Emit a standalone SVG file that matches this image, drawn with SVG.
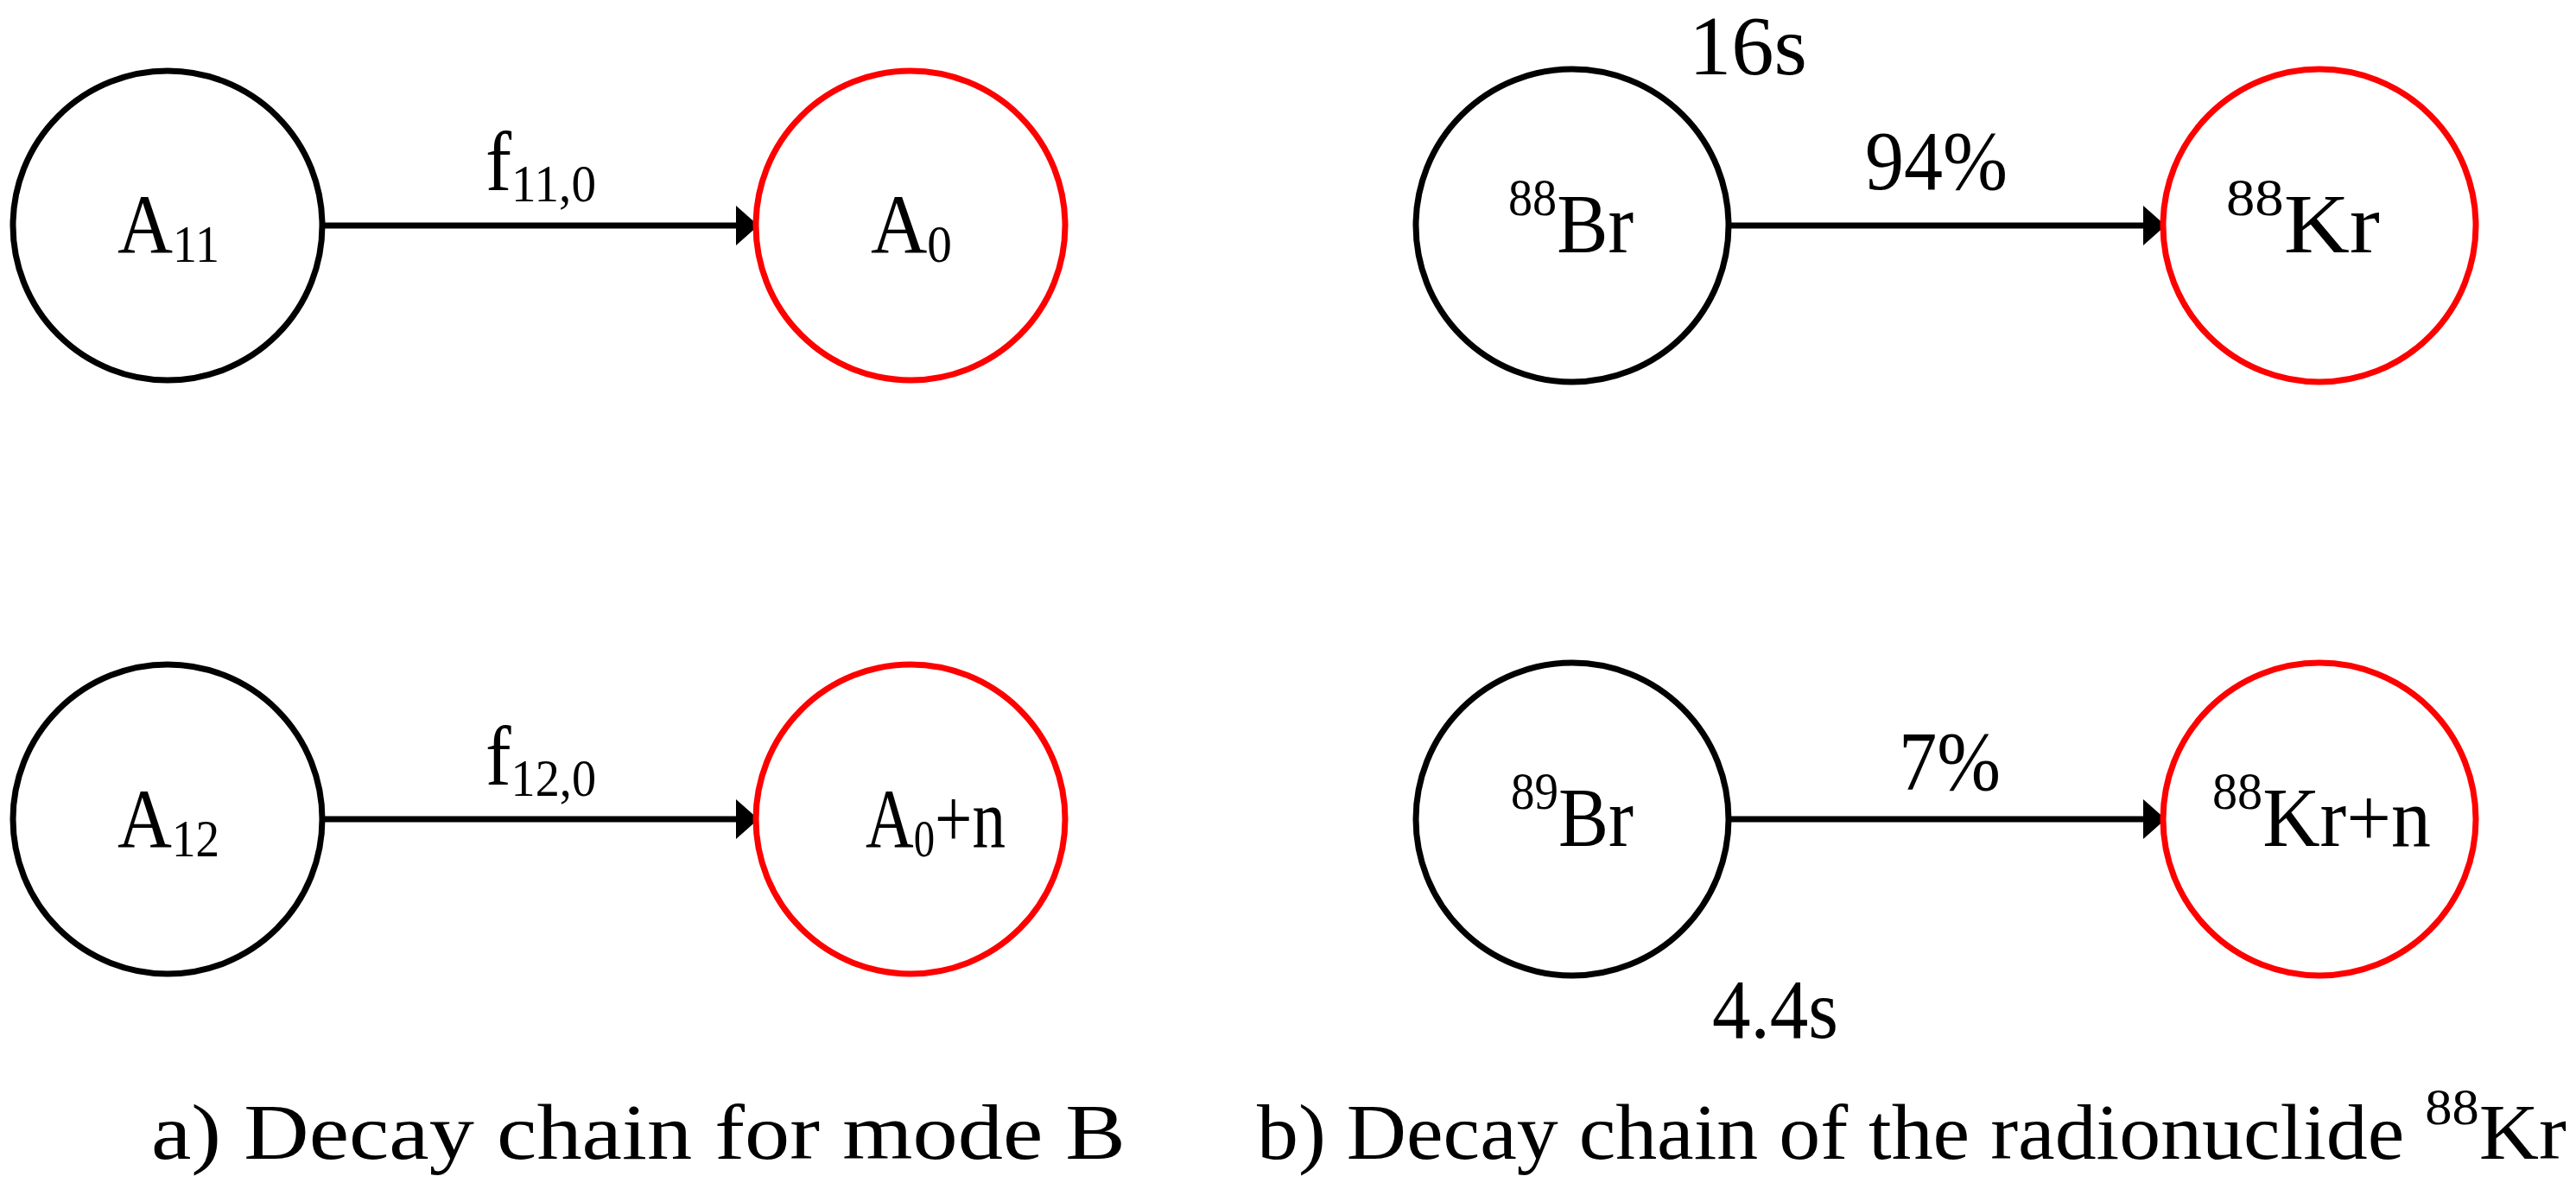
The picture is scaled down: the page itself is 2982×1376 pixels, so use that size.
<svg xmlns="http://www.w3.org/2000/svg" width="2982" height="1376" viewBox="0 0 2982 1376">
<style>
.n{fill:#fff;stroke:#000;stroke-width:7}
.r{stroke:#f00}
text{font-family:"Liberation Serif","Times New Roman",serif;fill:#000}
.m{font-size:98px}
.c{font-size:92px}
.e{stroke:#000;stroke-width:7;fill:none}
</style>
<defs><marker id="ah" markerUnits="userSpaceOnUse" markerWidth="26" markerHeight="46" refX="24" refY="23" orient="auto"><path d="M0,0 L26,23 L0,46 Z" fill="#000"/></marker></defs>
<g id="connectors">
<line class="e" x1="373" y1="261" x2="876" y2="261" marker-end="url(#ah)"/>
<line class="e" x1="373" y1="948" x2="876" y2="948" marker-end="url(#ah)"/>
<line class="e" x1="2001" y1="261" x2="2505" y2="261" marker-end="url(#ah)"/>
<line class="e" x1="2001" y1="948" x2="2505" y2="948" marker-end="url(#ah)"/>
</g>
<g id="A11"><circle class="n" cx="194" cy="261" r="179"/><text class="m" x="136" y="292" textLength="118" lengthAdjust="spacingAndGlyphs">A<tspan font-size="62" dy="11">11</tspan></text></g>
<g id="A0"><circle class="n r" cx="1054" cy="261" r="179"/><text class="m" x="1008" y="292" textLength="94" lengthAdjust="spacingAndGlyphs">A<tspan font-size="62" dy="11">0</tspan></text></g>
<g id="A12"><circle class="n" cx="194" cy="948" r="179"/><text class="m" x="136" y="980" textLength="118" lengthAdjust="spacingAndGlyphs">A<tspan font-size="62" dy="11">12</tspan></text></g>
<g id="A0n"><circle class="n r" cx="1054" cy="948" r="179"/><text class="m" x="1002" y="980" textLength="162" lengthAdjust="spacingAndGlyphs">A<tspan font-size="62" dy="11">0</tspan><tspan dy="-11">+n</tspan></text></g>
<g id="Br88"><circle class="n" cx="1820" cy="261" r="181"/><text class="m" x="1746" y="292" textLength="145" lengthAdjust="spacingAndGlyphs"><tspan font-size="62" dy="-43">88</tspan><tspan dy="43">Br</tspan></text></g>
<g id="Kr88"><circle class="n r" cx="2685" cy="261" r="181"/><text class="m" x="2577" y="292" textLength="178" lengthAdjust="spacingAndGlyphs"><tspan font-size="62" dy="-43">88</tspan><tspan dy="43">Kr</tspan></text></g>
<g id="Br89"><circle class="n" cx="1820" cy="948" r="181"/><text class="m" x="1749" y="979" textLength="142" lengthAdjust="spacingAndGlyphs"><tspan font-size="62" dy="-43">89</tspan><tspan dy="43">Br</tspan></text></g>
<g id="Kr88n"><circle class="n r" cx="2685" cy="948" r="181"/><text class="m" x="2561" y="979" textLength="253" lengthAdjust="spacingAndGlyphs"><tspan font-size="62" dy="-43">88</tspan><tspan dy="43">Kr+n</tspan></text></g>
<g id="labels">
<text class="m" x="562" y="220" textLength="128" lengthAdjust="spacingAndGlyphs">f<tspan font-size="62" dy="13">11,0</tspan></text>
<text class="m" x="562" y="908" textLength="128" lengthAdjust="spacingAndGlyphs">f<tspan font-size="62" dy="13">12,0</tspan></text>
<text class="m" x="1955" y="86" textLength="137" lengthAdjust="spacingAndGlyphs">16s</text>
<text class="m" x="2159" y="219" textLength="165" lengthAdjust="spacingAndGlyphs">94%</text>
<text class="m" x="2198" y="914" textLength="118" lengthAdjust="spacingAndGlyphs">7%</text>
<text class="m" x="1982" y="1201" textLength="146" lengthAdjust="spacingAndGlyphs">4.4s</text>
<text class="c" x="175" y="1341" textLength="1128" lengthAdjust="spacingAndGlyphs">a) Decay chain for mode B</text>
<text class="c" x="1455" y="1341" textLength="1516" lengthAdjust="spacingAndGlyphs">b) Decay chain of the radionuclide <tspan font-size="60" dy="-40">88</tspan><tspan dy="40">Kr</tspan></text>
</g>
</svg>
